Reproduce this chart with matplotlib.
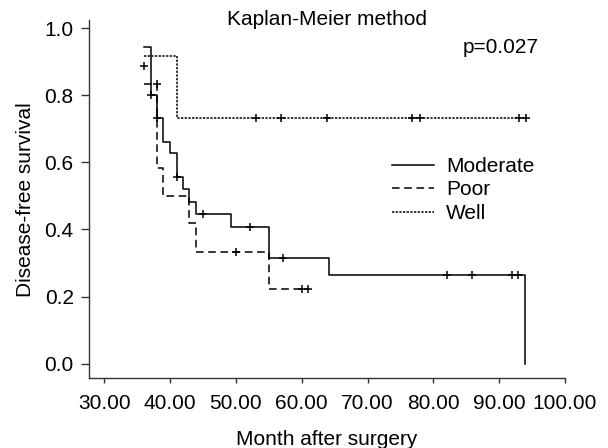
import numpy as np
import matplotlib
matplotlib.use("Agg")
import matplotlib.pyplot as plt

plt.rcParams['font.family'] = ['Liberation Sans', 'DejaVu Sans']

# step curves: time of each step and survival after it
mod_t = [36.1, 37.1, 38.1, 39.0, 40.0, 41.0, 42.0, 42.9, 44.0, 49.3, 55.0, 64.1, 93.9]
mod_s = [0.944, 0.800, 0.733, 0.662, 0.628, 0.557, 0.521, 0.483, 0.446, 0.407, 0.316, 0.265, 0.0]
poor_t = [36.1, 38.0, 39.0, 42.9, 44.0, 55.0, 61.0]
poor_s = [0.834, 0.583, 0.500, 0.420, 0.332, 0.221, 0.221]
well_t = [36.1, 41.0, 94.1]
well_s = [0.917, 0.733, 0.733]

# censored cases
mod_ct = [36.0, 37.1, 38.1, 41.0, 45.0, 52.1, 57.1, 82.0, 85.9, 91.9, 92.9]
mod_cs = [0.889, 0.800, 0.733, 0.557, 0.446, 0.407, 0.316, 0.265, 0.265, 0.265, 0.265]
poor_ct = [38.0, 50.0, 60.1, 61.0]
poor_cs = [0.834, 0.332, 0.221, 0.221]
well_ct = [53.0, 56.9, 63.9, 76.8, 78.0, 93.0, 94.1]
well_cs = [0.733] * 7

xticks = [30, 40, 50, 60, 70, 80, 90, 100]
xlabels = ["30.00", "40.00", "50.00", "60.00", "70.00", "80.00", "90.00", "100.00"]
yticks = [0.0, 0.2, 0.4, 0.6, 0.8, 1.0]
ylabels = ["0.0", "0.2", "0.4", "0.6", "0.8", "1.0"]

fig = plt.figure(figsize=(6.08, 4.48), dpi=100)
ax = fig.add_axes([0.1464, 0.1556, 0.7829, 0.7998])

ax.step(mod_t, mod_s, where='post', color='black', lw=1.1, label='Moderate')
ax.step(poor_t, poor_s, where='post', color='black', lw=1.1,
        linestyle=(0, (5, 3)), label='Poor')
ax.step(well_t, well_s, where='post', color='black', lw=1.1,
        linestyle=(0, (1.5, 0.9)), label='Well')

for ct, cs in [(mod_ct, mod_cs), (poor_ct, poor_cs), (well_ct, well_cs)]:
    ax.plot(ct, cs, linestyle='none', marker='+', color='black',
            markersize=5.5, markeredgewidth=1.1)

ax.set_xlim(27.7, 100)
ax.set_ylim(-0.044, 1.025)
ax.set_xticks(xticks)
ax.set_xticklabels(xlabels)
ax.set_yticks(yticks)
ax.set_yticklabels(ylabels)

for side in ['top', 'right']:
    ax.spines[side].set_visible(False)
for side in ['left', 'bottom']:
    ax.spines[side].set_color('#333333')
    ax.spines[side].set_linewidth(1.0)

ax.tick_params(axis='x', length=3.6, width=1.0, color='#333333', pad=8, labelsize=15)
ax.tick_params(axis='y', length=5.5, width=1.0, color='#333333', pad=5.5, labelsize=15)

ax.set_xlabel("Month after surgery", fontsize=15, labelpad=12)
ax.set_ylabel("Disease-free survival", fontsize=15, labelpad=7)

ax.text(0.5, 0.986, "Kaplan-Meier method", transform=ax.transAxes,
        ha='center', va='baseline', fontsize=15)
ax.text(0.786, 0.908, "p=0.027", transform=ax.transAxes,
        ha='left', va='baseline', fontsize=15)

ax.legend(loc='upper left', bbox_to_anchor=(0.637, 0.618), frameon=False,
          fontsize=15, handlelength=2.0, handletextpad=0.57,
          labelspacing=0.22, borderpad=0, borderaxespad=0)

fig.savefig("out.png", dpi=100)
